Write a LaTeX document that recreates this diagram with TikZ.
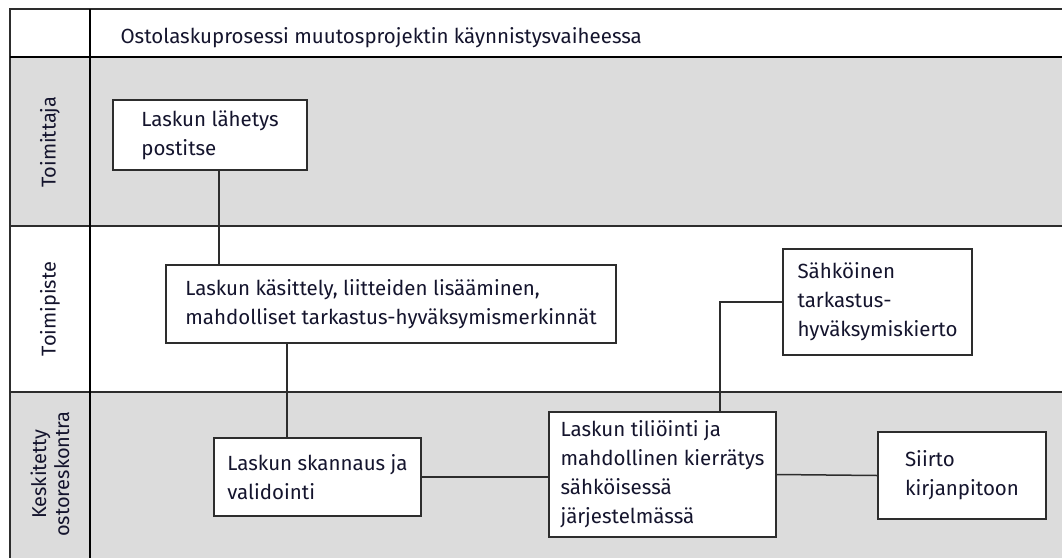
\documentclass[tikz,border=0pt]{standalone}
\usepackage{fontspec}
\setmainfont{Fira Sans}
\usetikzlibrary{positioning}
\definecolor{lanegray}{RGB}{220,220,220}
\definecolor{linegray}{RGB}{45,45,45}
\definecolor{textnavy}{RGB}{20,20,45}
\tikzset{
  stepbox/.style={draw=linegray, fill=white, line width=1.5pt, align=left,
    text=textnavy, font=\fontsize{20.5}{29}\selectfont, inner sep=0pt},
  link/.style={draw=linegray, line width=1.5pt},
  lanename/.style={rotate=90, align=center, text=textnavy,
    font=\fontsize{20}{23}\selectfont}
}
\begin{document}
\begin{tikzpicture}[x=1pt, y=-1pt]
      \useasboundingbox (0,0) rectangle (1062,557);
      \clip (0,0) rectangle (1062,557);
      %%lanes
      \fill[lanegray](10, 57) rectangle (1070, 226);
      \fill[lanegray](10, 392) rectangle (1070, 565);
      \draw[linegray, line width=1.5pt](1070, 9) -- (10, 9) -- (10, 565);
      \draw[line width=2.2pt](10, 57) to (1070, 57);
      \draw[linegray, line width=1.5pt](10, 226) to (1070, 226);
      \draw[linegray, line width=1.5pt](10, 392) to (1070, 392);
      \draw[line width=2.5pt](90, 9) to (90, 565);
        %%titles
        \node[anchor=base west, text=textnavy, font=\fontsize{20.5}{23}\selectfont] (title) at (117, 43)
          {Ostolaskuprosessi muutosprojektin käynnistysvaiheessa};
        \node[lanename] (toimittaja) at (50, 142) {Toimittaja};
        \node[lanename] (toimipiste) at (50, 309) {Toimipiste};
        \node[lanename] (keskitetty) at (50, 474) {Keskitetty\\ostoreskontra};
      %%steps
      \node[stepbox, minimum width=194, minimum height=70] (lahetys) at (210, 135)
        {Laskun lähetys\\postitse};
      \node[stepbox, minimum width=450, minimum height=78] (kasittely) at (391, 304)
        {Laskun käsittely, liitteiden lisääminen,\\mahdolliset tarkastus-hyväksymismerkinnät};
      \node[stepbox, minimum width=207, minimum height=78] (skannaus) at (317.5, 477)
        {Laskun skannaus ja\\validointi};
      \node[stepbox, minimum width=227, minimum height=125] (tiliointi) at (662.5, 474.5)
        {Laskun tiliöinti ja\\mahdollinen kierrätys\\sähköisessä\\järjestelmässä};
      \node[stepbox, minimum width=168, minimum height=87] (siirto) at (962, 475.5)
        {Siirto\\kirjanpitoon};
      \node[stepbox, minimum width=189, minimum height=106] (kierto) at (877.5, 302)
        {Sähköinen\\tarkastus-\\hyväksymiskierto};
      %%links
      \draw[link]([xshift=9]lahetys.south) to ([xshift=9]lahetys.south |- kasittely.north);
      \draw[link]([xshift=-104]kasittely.south) to ([xshift=-104]kasittely.south |- skannaus.north);
      \draw[link](skannaus.east) to (skannaus.east -| tiliointi.west);
      \draw[link](tiliointi.east) to (siirto.west);
      \draw[link]([xshift=57.5]tiliointi.north) |- (kierto.west);
\end{tikzpicture}
\end{document}
